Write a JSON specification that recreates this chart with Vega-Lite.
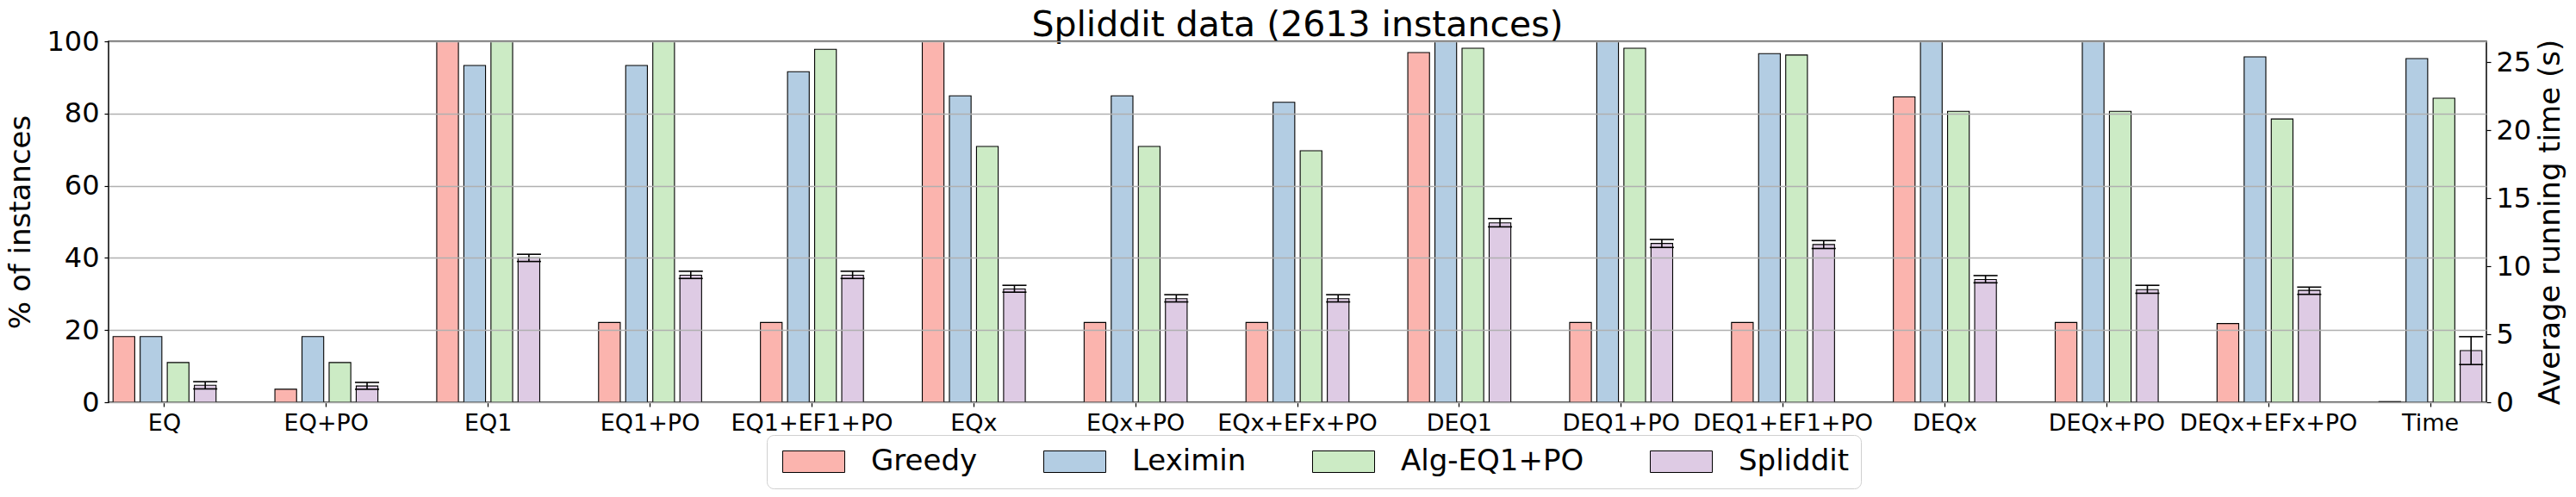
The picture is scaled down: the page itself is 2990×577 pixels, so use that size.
{
  "$schema": "https://vega.github.io/schema/vega-lite/v6.json",
  "autosize": {"type": "none"},
  "width": 2760,
  "height": 419,
  "padding": {"left": 126, "top": 48, "right": 104, "bottom": 110},
  "background": "white",
  "title": {
    "text": "Spliddit data (2613 instances)",
    "fontSize": 41,
    "font": "DejaVu Sans",
    "fontWeight": "normal",
    "color": "black",
    "anchor": "middle",
    "frame": "group",
    "baseline": "bottom",
    "offset": -60
  },
  "config": {
    "font": "DejaVu Sans",
    "view": {"stroke": "black", "strokeWidth": 1.5},
    "axis": {
      "labelFont": "DejaVu Sans",
      "titleFont": "DejaVu Sans",
      "labelColor": "black",
      "titleColor": "black",
      "titleFontWeight": "normal",
      "tickColor": "black",
      "tickSize": 5,
      "tickWidth": 1.2,
      "domain": false
    }
  },
  "data": {
    "values": [
      {"p": "EQ", "a": "Greedy", "v": 18.2},
      {"p": "EQ", "a": "Leximin", "v": 18.2},
      {"p": "EQ", "a": "Alg-EQ1+PO", "v": 11.0},
      {"p": "EQ", "a": "Spliddit", "v": 4.7, "lo": 3.7, "hi": 5.7},
      {"p": "EQ+PO", "a": "Greedy", "v": 3.6},
      {"p": "EQ+PO", "a": "Leximin", "v": 18.2},
      {"p": "EQ+PO", "a": "Alg-EQ1+PO", "v": 11.0},
      {"p": "EQ+PO", "a": "Spliddit", "v": 4.5, "lo": 3.6, "hi": 5.5},
      {"p": "EQ1", "a": "Greedy", "v": 100},
      {"p": "EQ1", "a": "Leximin", "v": 93.3},
      {"p": "EQ1", "a": "Alg-EQ1+PO", "v": 100},
      {"p": "EQ1", "a": "Spliddit", "v": 40.0, "lo": 39.0, "hi": 41.0},
      {"p": "EQ1+PO", "a": "Greedy", "v": 22.1},
      {"p": "EQ1+PO", "a": "Leximin", "v": 93.3},
      {"p": "EQ1+PO", "a": "Alg-EQ1+PO", "v": 100},
      {"p": "EQ1+PO", "a": "Spliddit", "v": 35.2, "lo": 34.3, "hi": 36.3},
      {"p": "EQ1+EF1+PO", "a": "Greedy", "v": 22.1},
      {"p": "EQ1+EF1+PO", "a": "Leximin", "v": 91.6},
      {"p": "EQ1+EF1+PO", "a": "Alg-EQ1+PO", "v": 97.8},
      {"p": "EQ1+EF1+PO", "a": "Spliddit", "v": 35.2, "lo": 34.3, "hi": 36.3},
      {"p": "EQx", "a": "Greedy", "v": 100},
      {"p": "EQx", "a": "Leximin", "v": 84.9},
      {"p": "EQx", "a": "Alg-EQ1+PO", "v": 70.9},
      {"p": "EQx", "a": "Spliddit", "v": 31.4, "lo": 30.5, "hi": 32.4},
      {"p": "EQx+PO", "a": "Greedy", "v": 22.1},
      {"p": "EQx+PO", "a": "Leximin", "v": 84.9},
      {"p": "EQx+PO", "a": "Alg-EQ1+PO", "v": 70.9},
      {"p": "EQx+PO", "a": "Spliddit", "v": 28.7, "lo": 27.8, "hi": 29.8},
      {"p": "EQx+EFx+PO", "a": "Greedy", "v": 22.1},
      {"p": "EQx+EFx+PO", "a": "Leximin", "v": 83.1},
      {"p": "EQx+EFx+PO", "a": "Alg-EQ1+PO", "v": 69.7},
      {"p": "EQx+EFx+PO", "a": "Spliddit", "v": 28.7, "lo": 27.8, "hi": 29.8},
      {"p": "DEQ1", "a": "Greedy", "v": 96.9},
      {"p": "DEQ1", "a": "Leximin", "v": 100},
      {"p": "DEQ1", "a": "Alg-EQ1+PO", "v": 98.1},
      {"p": "DEQ1", "a": "Spliddit", "v": 49.7, "lo": 48.6, "hi": 50.9},
      {"p": "DEQ1+PO", "a": "Greedy", "v": 22.1},
      {"p": "DEQ1+PO", "a": "Leximin", "v": 100},
      {"p": "DEQ1+PO", "a": "Alg-EQ1+PO", "v": 98.1},
      {"p": "DEQ1+PO", "a": "Spliddit", "v": 44.0, "lo": 42.9, "hi": 45.1},
      {"p": "DEQ1+EF1+PO", "a": "Greedy", "v": 22.1},
      {"p": "DEQ1+EF1+PO", "a": "Leximin", "v": 96.6},
      {"p": "DEQ1+EF1+PO", "a": "Alg-EQ1+PO", "v": 96.2},
      {"p": "DEQ1+EF1+PO", "a": "Spliddit", "v": 43.7, "lo": 42.6, "hi": 44.8},
      {"p": "DEQx", "a": "Greedy", "v": 84.6},
      {"p": "DEQx", "a": "Leximin", "v": 100},
      {"p": "DEQx", "a": "Alg-EQ1+PO", "v": 80.6},
      {"p": "DEQx", "a": "Spliddit", "v": 34.0, "lo": 33.1, "hi": 35.1},
      {"p": "DEQx+PO", "a": "Greedy", "v": 22.1},
      {"p": "DEQx+PO", "a": "Leximin", "v": 100},
      {"p": "DEQx+PO", "a": "Alg-EQ1+PO", "v": 80.6},
      {"p": "DEQx+PO", "a": "Spliddit", "v": 31.2, "lo": 30.2, "hi": 32.4},
      {"p": "DEQx+EFx+PO", "a": "Greedy", "v": 21.8},
      {"p": "DEQx+EFx+PO", "a": "Leximin", "v": 95.7},
      {"p": "DEQx+EFx+PO", "a": "Alg-EQ1+PO", "v": 78.5},
      {"p": "DEQx+EFx+PO", "a": "Spliddit", "v": 31.0, "lo": 29.9, "hi": 31.9},
      {"p": "Time", "a": "Greedy", "v": 0.05},
      {"p": "Time", "a": "Leximin", "v": 25.25},
      {"p": "Time", "a": "Alg-EQ1+PO", "v": 22.34},
      {"p": "Time", "a": "Spliddit", "v": 3.8, "lo": 2.77, "hi": 4.82}
    ]
  },
  "encoding": {
    "x": {
      "field": "p",
      "type": "nominal",
      "title": null,
      "scale": {
        "domain": ["EQ", "EQ+PO", "EQ1", "EQ1+PO", "EQ1+EF1+PO", "EQx", "EQx+PO", "EQx+EFx+PO", "DEQ1", "DEQ1+PO", "DEQ1+EF1+PO", "DEQx", "DEQx+PO", "DEQx+EFx+PO", "Time"],
        "paddingInner": 0.33,
        "paddingOuter": 0.011
      },
      "axis": {"labelAngle": 0, "labelFontSize": 27, "labelPadding": 6, "labelOverlap": false, "labelLimit": 400, "grid": false}
    },
    "xOffset": {
      "field": "a",
      "type": "nominal",
      "scale": {"domain": ["Greedy", "Leximin", "Alg-EQ1+PO", "Spliddit"], "paddingInner": 0.2, "paddingOuter": 0.1}
    }
  },
  "layer": [
    {
      "transform": [{"filter": "datum.p !== 'Time'"}],
      "layer": [
        {
          "mark": {"type": "bar", "stroke": "black", "strokeWidth": 1.1, "clip": true},
          "encoding": {
            "y": {
              "field": "v",
              "type": "quantitative",
              "title": "% of instances",
              "scale": {"domain": [0, 100], "nice": false},
              "axis": {"values": [0, 20, 40, 60, 80, 100], "labelFontSize": 32, "titleFontSize": 34, "titlePadding": 12, "labelPadding": 6, "grid": true, "gridColor": "#b0b0b0", "gridWidth": 1.5, "zindex": 1}
            },
            "color": {
              "field": "a",
              "type": "nominal",
              "scale": {"domain": ["Greedy", "Leximin", "Alg-EQ1+PO", "Spliddit"], "range": ["#fbb4ae", "#b3cde3", "#ccebc5", "#decbe4"]},
              "legend": {
                "title": null,
                "orient": "none",
                "direction": "horizontal",
                "legendX": 764,
                "legendY": 457,
                "labelFontSize": 34,
                "labelFont": "DejaVu Sans",
                "labelColor": "black",
                "labelLimit": 500,
                "symbolType": "M-1,-1L4.76,-1L4.76,1L-1,1Z",
                "symbolSize": 625,
                "symbolStrokeColor": "black",
                "symbolStrokeWidth": 1,
                "symbolOpacity": 1,
                "labelOffset": 73,
                "columnPadding": 72,
                "padding": 14,
                "strokeColor": "#d0d0d0",
                "fillColor": "white",
                "cornerRadius": 8
              }
            }
          }
        },
        {
          "transform": [{"filter": "datum.a === 'Spliddit'"}],
          "mark": {"type": "rule", "color": "black", "strokeWidth": 1.6},
          "encoding": {
            "y": {"field": "lo", "type": "quantitative", "title": "% of instances"},
            "y2": {"field": "hi"}
          }
        },
        {
          "transform": [{"filter": "datum.a === 'Spliddit'"}],
          "mark": {"type": "tick", "color": "black", "size": 28, "thickness": 1.6, "opacity": 1},
          "encoding": {"y": {"field": "lo", "type": "quantitative", "title": "% of instances"}}
        },
        {
          "transform": [{"filter": "datum.a === 'Spliddit'"}],
          "mark": {"type": "tick", "color": "black", "size": 28, "thickness": 1.6, "opacity": 1},
          "encoding": {"y": {"field": "hi", "type": "quantitative", "title": "% of instances"}}
        }
      ]
    },
    {
      "transform": [{"filter": "datum.p === 'Time'"}],
      "layer": [
        {
          "mark": {"type": "bar", "stroke": "black", "strokeWidth": 1.1},
          "encoding": {
            "y": {
              "field": "v",
              "type": "quantitative",
              "title": "Average running time (s)",
              "scale": {"domain": [0, 26.52], "nice": false},
              "axis": {"orient": "right", "values": [0, 5, 10, 15, 20, 25], "labelFontSize": 32, "titleFontSize": 34, "titleAngle": 270, "titleBaseline": "top", "titlePadding": 6, "labelPadding": 6, "grid": false}
            },
            "color": {"field": "a", "type": "nominal", "legend": null}
          }
        },
        {
          "transform": [{"filter": "datum.a === 'Spliddit'"}],
          "mark": {"type": "rule", "color": "black", "strokeWidth": 1.6},
          "encoding": {
            "y": {"field": "lo", "type": "quantitative", "title": "Average running time (s)"},
            "y2": {"field": "hi"}
          }
        },
        {
          "transform": [{"filter": "datum.a === 'Spliddit'"}],
          "mark": {"type": "tick", "color": "black", "size": 28, "thickness": 1.6, "opacity": 1},
          "encoding": {"y": {"field": "lo", "type": "quantitative", "title": "Average running time (s)"}}
        },
        {
          "transform": [{"filter": "datum.a === 'Spliddit'"}],
          "mark": {"type": "tick", "color": "black", "size": 28, "thickness": 1.6, "opacity": 1},
          "encoding": {"y": {"field": "hi", "type": "quantitative", "title": "Average running time (s)"}}
        }
      ]
    }
  ],
  "resolve": {"scale": {"y": "independent"}}
}
